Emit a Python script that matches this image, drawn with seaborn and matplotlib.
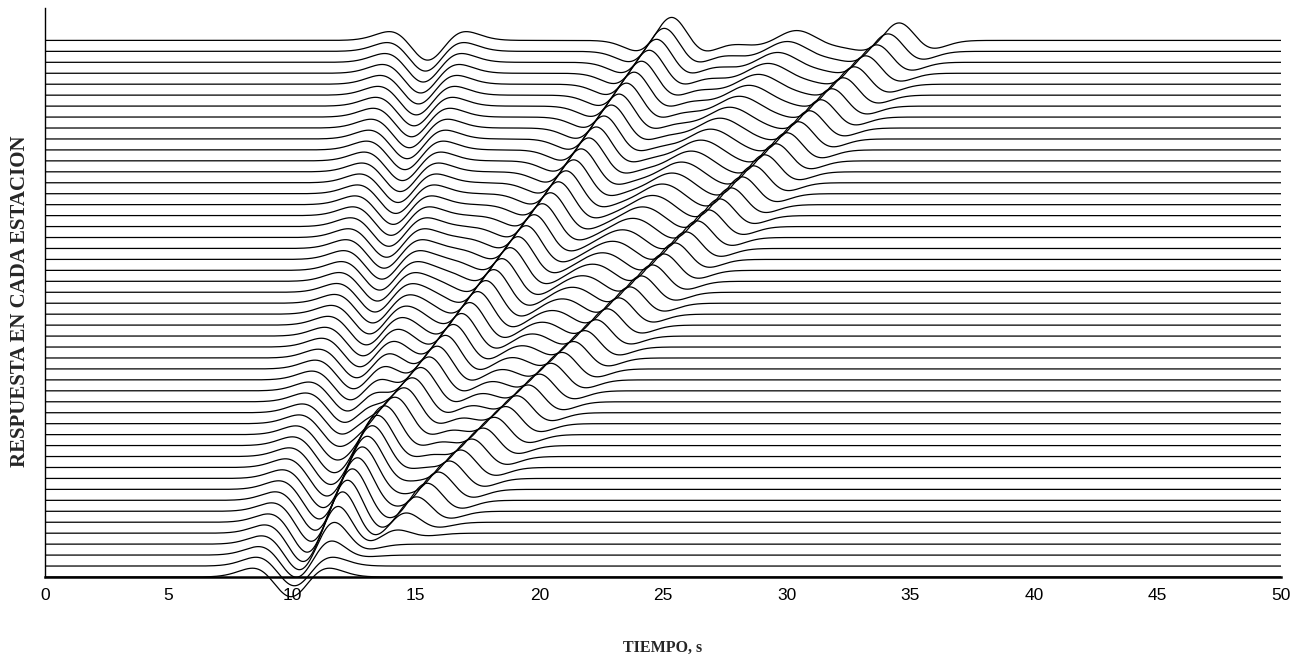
import numpy as np
import pandas as pd
import matplotlib
matplotlib.use("Agg")
import matplotlib.pyplot as plt
import seaborn as sns

# ---------------- data ----------------
n_traces = 50
station_offset = [i * 0.1 for i in range(n_traces)]   # trace baselines (10 traces per tick)

# incident pulse (inverted Ricker) centre time per station, s
t_incident = [9.95, 10.09, 10.22, 10.36, 10.49, 10.63, 10.76, 10.90, 11.03, 11.17,
              11.30, 11.44, 11.57, 11.70, 11.83, 11.96, 12.09, 12.22, 12.35, 12.48,
              12.61, 12.74, 12.87, 13.00, 13.13, 13.26, 13.35, 13.45, 13.54, 13.63,
              13.72, 13.82, 13.91, 14.00, 14.09, 14.19, 14.28, 14.37, 14.46, 14.56,
              14.65, 14.74, 14.83, 14.93, 15.02, 15.11, 15.20, 15.30, 15.39, 15.48]
amp_incident = [0.18] * 50

# first surface wave (sharp diagonal) peak time per station, s
t_wave1 = [10.94, 11.15, 11.37, 11.58, 11.80, 12.01, 12.23, 12.44, 12.66, 12.87,
           13.09, 13.30, 13.52, 13.82, 14.23, 14.58, 14.90, 15.23, 15.56, 15.88,
           16.21, 16.53, 16.86, 17.19, 17.51, 17.84, 18.16, 18.49, 18.82, 19.14,
           19.47, 19.79, 20.12, 20.45, 20.77, 21.08, 21.39, 21.69, 22.00, 22.30,
           22.61, 22.91, 23.22, 23.52, 23.83, 24.13, 24.44, 24.74, 25.05, 25.35]
amp_wave1 = [0.0, 0.0, 0.06, 0.13, 0.18] + [0.21] * 45

# second surface wave (braided diagonal) peak time per station, s
t_wave2 = [12.26, 12.71, 13.17, 13.62, 14.08, 14.53, 14.99, 15.44, 15.90, 16.35,
           16.81, 17.26, 17.72, 18.17, 18.63, 19.08, 19.54, 19.99, 20.45, 20.90,
           21.36, 21.81, 22.27, 22.72, 23.18, 23.63, 24.09, 24.54, 25.00, 25.45,
           25.91, 26.36, 26.82, 27.27, 27.73, 28.18, 28.64, 29.09, 29.55, 30.00,
           30.46, 30.91, 31.37, 31.82, 32.28, 32.73, 33.19, 33.64, 34.10, 34.55]
amp_wave2 = [0.0] * 4 + [0.05, 0.10, 0.14] + [0.16] * 43

# weaker intermediate arrival peak time per station, s
t_wave3 = [11.67, 12.01, 12.36, 12.70, 13.05, 13.40, 13.75, 14.09, 14.44, 14.78,
           15.14, 15.48, 15.83, 16.21, 16.65, 17.06, 17.45, 17.85, 18.25, 18.64,
           19.04, 19.43, 19.84, 20.23, 20.63, 21.02, 21.42, 21.82, 22.22, 22.61,
           23.01, 23.40, 23.81, 24.20, 24.60, 24.99, 25.38, 25.76, 26.15, 26.54,
           26.93, 27.31, 27.70, 28.09, 28.48, 28.86, 29.25, 29.64, 30.03, 30.41]
amp_wave3 = ([0.0] * 12 +
             [0.0, 0.004, 0.008, 0.012, 0.016, 0.02, 0.023, 0.027, 0.031, 0.035,
              0.039, 0.043, 0.047, 0.051, 0.055, 0.059, 0.063, 0.066, 0.07, 0.074,
              0.078, 0.082, 0.086, 0.09] +
             [0.09] * 14)

x_ticks = [0, 5, 10, 15, 20, 25, 30, 35, 40, 45, 50]
y_ticks = [0, 1, 2, 3, 4, 5]

# ---------------- build traces ----------------
def ricker(t, t0, f):
    a = (np.pi * f * (t - t0)) ** 2
    return (1.0 - 2.0 * a) * np.exp(-a)

t = np.linspace(0, 50, 2501)
frames = []
for i in range(n_traces):
    y = (station_offset[i]
         - amp_incident[i] * ricker(t, t_incident[i], 0.25)
         + amp_wave1[i] * ricker(t, t_wave1[i], 0.27)
         + amp_wave3[i] * ricker(t, t_wave3[i], 0.22)
         + amp_wave2[i] * ricker(t, t_wave2[i], 0.27))
    frames.append(pd.DataFrame({"t": t, "y": y, "trace": i}))
df = pd.concat(frames, ignore_index=True)

# ---------------- plot ----------------
sns.set_style("white")
plt.rcParams["font.family"] = ["Liberation Serif", "DejaVu Serif"]

fig = plt.figure(figsize=(13.09, 6.62), dpi=100)
ax = fig.add_axes([45 / 1309, 52.15 / 662, 1236 / 1309, 601.85 / 662])

sns.lineplot(data=df, x="t", y="y", units="trace", estimator=None, sort=False,
             color="black", linewidth=0.9, ax=ax, legend=False)

ax.set_xlim(0, 50)
ax.set_ylim(-0.3, 5.196)
for s in ("top", "right"):
    ax.spines[s].set_visible(False)
ax.spines["bottom"].set_position(("data", 0))
ax.spines["bottom"].set_linewidth(1.8)
ax.spines["left"].set_linewidth(1.0)
ax.spines["left"].set_bounds(0, 5.196)
for s in ("bottom", "left"):
    ax.spines[s].set_color("black")

ax.set_xticks(x_ticks)
ax.set_xticklabels([str(v) for v in x_ticks], fontsize=12.5,
                   family=["Liberation Sans", "DejaVu Sans"])
ax.set_yticks(y_ticks)
ax.set_yticklabels([])
ax.tick_params(axis="both", direction="inout", length=10, width=1.0,
               colors="black", pad=3)

ax.set_xlabel("TIEMPO, s", fontsize=11.5, fontweight="bold")
ax.xaxis.set_label_coords(0.5, -0.050)
ax.set_ylabel("RESPUESTA EN CADA ESTACION", fontsize=15, fontweight="bold")
ax.yaxis.set_label_coords(-0.0122, 0.513)

fig.savefig("out.png", dpi=100, facecolor="white")
